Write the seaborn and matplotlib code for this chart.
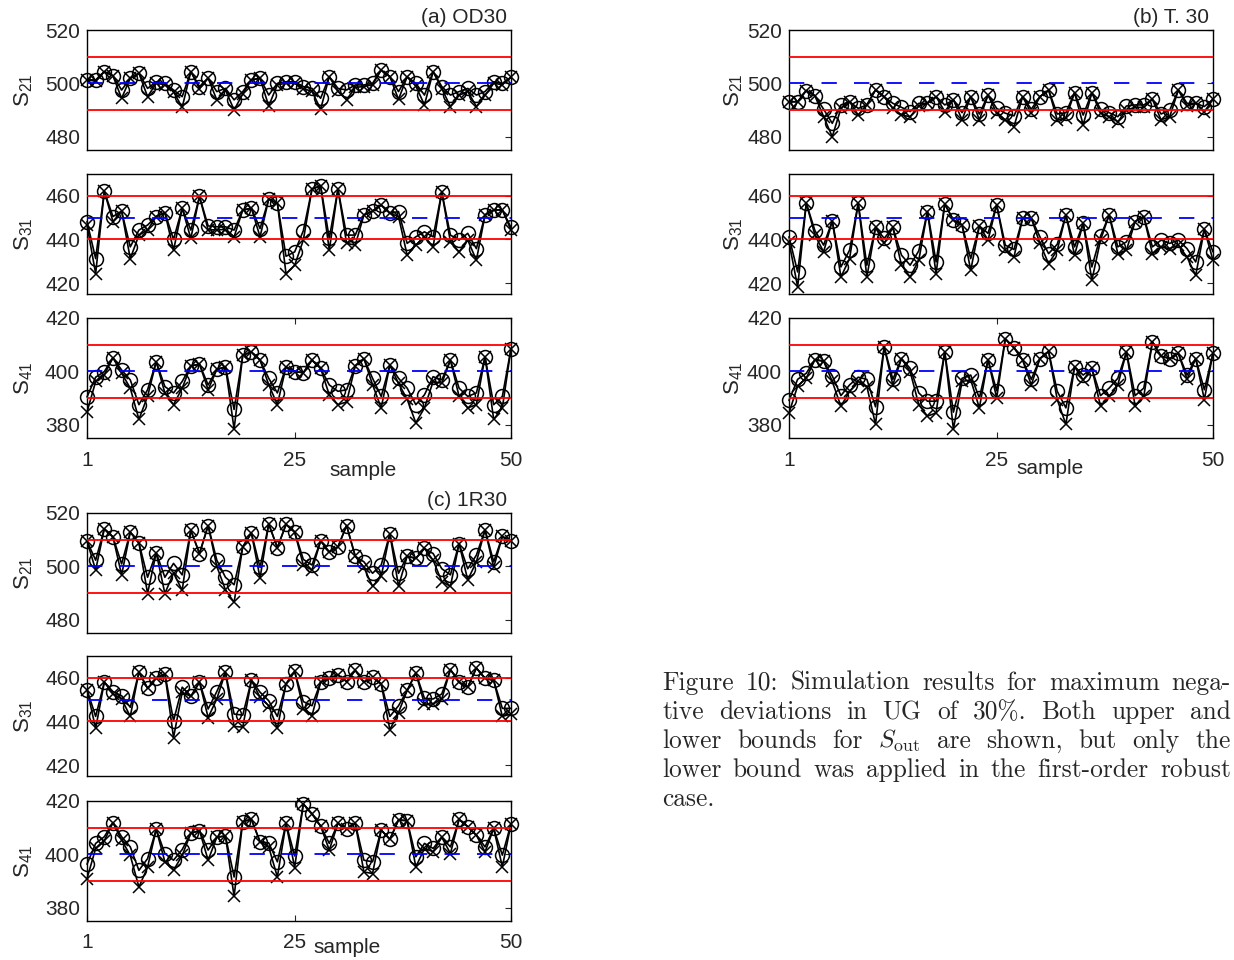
"""
Simulation results for maximum negative deviations in UG of 30%:
three cases (OD30, T. 30, 1R30), each with S21, S31 and S41 traces.
Circles = upper bound trace, crosses = lower bound trace.
"""

import numpy as np
import pandas as pd
import seaborn as sns
import matplotlib.pyplot as plt

samples = np.arange(1, 51)

# ---- (a) OD30 ----
a21_circ = [501.3, 501.3, 504.4, 502.8, 497.5, 501.9, 503.8, 498.1, 500.6, 500.0,
            497.5, 495.0, 504.4, 498.8, 501.9, 496.9, 498.1, 493.8, 496.9, 501.3,
            501.9, 495.6, 500.0, 500.6, 500.6, 498.8, 498.1, 494.4, 502.5, 498.1,
            497.5, 499.4, 499.4, 500.0, 505.0, 502.5, 496.9, 502.5, 500.0, 495.6,
            504.4, 498.8, 495.6, 496.9, 498.1, 495.6, 496.9, 500.6, 500.0, 502.3]
a21_cross = [501.3, 500.8, 504.4, 502.8, 494.4, 501.9, 503.8, 495.0, 500.0, 499.5,
             496.8, 491.0, 504.4, 498.0, 501.9, 493.8, 497.5, 490.0, 496.0, 501.3,
             501.9, 491.5, 499.5, 500.0, 500.0, 498.0, 497.0, 490.3, 502.5, 497.0,
             493.8, 498.5, 498.8, 499.5, 505.0, 502.5, 494.0, 502.5, 499.0, 491.9,
             504.4, 498.0, 491.3, 495.5, 497.0, 491.3, 495.5, 500.0, 499.5, 502.3]
a31_circ = [448.2, 431.2, 462.0, 450.5, 453.0, 436.6, 444.3, 446.6, 450.5, 452.3,
            440.0, 454.3, 444.3, 459.7, 446.2, 445.8, 445.8, 444.3, 453.5, 454.3,
            445.0, 458.5, 456.6, 432.3, 434.3, 444.0, 463.1, 464.6, 440.5, 463.1,
            442.0, 442.0, 451.2, 453.0, 455.8, 452.0, 452.8, 438.2, 441.2, 443.5,
            441.2, 461.7, 442.0, 439.7, 442.8, 435.8, 451.2, 453.5, 453.5, 445.5]
a31_cross = [446.6, 424.3, 462.0, 448.2, 453.0, 431.2, 442.0, 444.3, 450.5, 452.3,
             435.0, 454.3, 440.5, 459.7, 444.3, 444.5, 444.5, 441.2, 453.5, 454.3,
             441.2, 458.5, 456.6, 424.3, 428.2, 439.7, 463.1, 464.6, 435.0, 463.1,
             438.2, 437.4, 451.2, 453.0, 455.8, 452.0, 450.5, 432.8, 437.4, 441.2,
             436.6, 461.7, 438.9, 434.3, 439.7, 430.5, 451.2, 453.5, 453.5, 444.3]
a41_circ = [390.4, 397.8, 399.9, 405.1, 400.5, 396.8, 387.5, 393.1, 403.6, 394.3,
            391.9, 396.2, 402.0, 402.7, 394.9, 400.7, 401.7, 385.7, 406.0, 407.3,
            404.2, 397.4, 391.9, 401.7, 399.9, 399.5, 404.2, 401.1, 394.9, 392.5,
            393.1, 402.0, 404.8, 397.4, 390.6, 402.3, 397.4, 393.7, 387.5, 391.2,
            398.0, 396.8, 404.2, 393.7, 390.6, 391.9, 405.4, 387.5, 390.6, 408.5]
a41_cross = [384.7, 396.2, 398.7, 405.1, 399.3, 393.7, 382.0, 390.6, 403.6, 391.9,
             387.5, 393.7, 402.0, 402.7, 393.1, 400.7, 401.7, 378.3, 406.0, 407.3,
             404.2, 395.0, 387.5, 401.7, 399.9, 399.5, 404.2, 401.1, 391.2, 387.5,
             388.5, 402.0, 404.8, 395.0, 386.3, 402.3, 395.5, 389.5, 380.7, 386.3,
             396.2, 395.5, 404.2, 390.6, 386.3, 387.5, 405.4, 382.0, 386.3, 408.5]

# ---- (b) T. 30 ----
b21_circ = [493.1, 493.1, 497.3, 495.3, 490.3, 485.0, 491.9, 493.1, 490.6, 491.9,
            497.5, 495.0, 492.5, 491.0, 489.4, 492.5, 492.5, 495.0, 491.9, 493.8,
            489.0, 495.0, 488.5, 495.6, 490.6, 488.8, 487.8, 495.0, 490.3, 495.0,
            497.5, 488.5, 489.0, 496.5, 488.1, 496.5, 490.3, 489.0, 487.5, 491.5,
            491.9, 491.9, 494.0, 488.5, 490.0, 497.5, 492.5, 492.5, 491.3, 494.0]
b21_cross = [493.1, 493.1, 497.3, 495.3, 487.5, 480.0, 490.6, 493.1, 488.1, 491.9,
             497.5, 495.0, 490.6, 488.1, 487.5, 491.5, 492.5, 495.0, 489.4, 493.8,
             486.3, 495.0, 486.3, 495.6, 488.8, 486.3, 483.8, 495.0, 488.8, 495.0,
             497.5, 486.3, 487.0, 496.5, 484.4, 496.5, 488.8, 487.5, 485.6, 490.0,
             491.0, 491.0, 494.0, 486.3, 487.5, 497.5, 491.5, 492.5, 489.4, 494.0]
b31_circ = [441.2, 425.1, 456.6, 444.0, 437.4, 448.5, 427.4, 435.1, 456.6, 428.2,
            445.5, 440.5, 445.5, 432.8, 428.2, 434.8, 452.8, 429.7, 456.2, 448.9,
            446.6, 431.2, 446.2, 442.8, 455.8, 437.4, 435.4, 449.7, 449.7, 441.2,
            433.5, 437.8, 451.2, 436.6, 447.4, 427.4, 441.5, 451.2, 436.6, 438.9,
            448.2, 450.5, 436.6, 439.7, 438.2, 439.7, 435.8, 429.7, 444.6, 434.3]
b31_cross = [438.9, 418.2, 456.6, 442.0, 434.3, 448.5, 422.8, 431.2, 456.6, 422.8,
             445.5, 438.2, 445.5, 428.2, 422.8, 430.5, 452.8, 424.3, 456.2, 448.9,
             446.6, 425.8, 446.2, 439.7, 455.8, 435.1, 432.0, 449.7, 449.7, 438.2,
             428.9, 435.1, 451.2, 432.8, 447.4, 421.2, 439.7, 451.2, 433.5, 435.1,
             448.2, 450.5, 433.5, 436.6, 435.8, 437.4, 431.9, 423.5, 444.6, 430.5]
b41_circ = [389.1, 397.0, 399.3, 404.4, 403.8, 398.3, 390.9, 394.9, 397.8, 397.0,
            386.7, 409.1, 397.0, 404.8, 401.1, 391.9, 388.8, 388.8, 407.3, 384.7,
            397.4, 398.6, 390.0, 404.4, 392.7, 412.2, 408.9, 404.2, 397.0, 404.8,
            407.5, 392.5, 386.3, 401.7, 398.6, 401.1, 390.9, 393.7, 397.4, 407.3,
            390.9, 393.7, 411.0, 405.7, 404.8, 406.7, 398.6, 404.8, 393.1, 406.9]
b41_cross = [384.4, 394.5, 397.5, 404.4, 403.8, 396.2, 386.9, 392.5, 396.2, 394.3,
             380.1, 409.1, 394.9, 404.8, 399.9, 387.5, 383.2, 384.4, 407.3, 378.3,
             396.2, 396.8, 386.3, 404.4, 390.0, 412.2, 408.9, 404.2, 394.9, 404.8,
             407.5, 389.4, 380.1, 401.7, 396.8, 401.1, 386.9, 390.6, 394.9, 407.3,
             386.9, 390.6, 411.0, 405.7, 404.8, 406.7, 397.0, 404.8, 389.4, 406.9]

# ---- (c) 1R30 ----
c21_circ = [509.5, 502.3, 514.1, 511.0, 500.9, 512.8, 508.8, 495.9, 505.1, 495.9,
            501.1, 496.8, 513.5, 504.8, 515.3, 502.3, 495.9, 493.1, 507.3, 512.5,
            499.6, 515.9, 507.0, 515.7, 512.8, 502.6, 500.5, 509.5, 505.4, 507.3,
            515.3, 503.8, 501.7, 497.4, 500.5, 512.2, 497.4, 503.8, 503.0, 506.7,
            504.8, 499.1, 496.8, 508.5, 499.1, 504.2, 513.7, 501.7, 511.2, 509.5]
c21_cross = [509.5, 498.6, 514.1, 511.0, 496.8, 512.8, 508.8, 489.8, 505.1, 489.8,
             497.5, 491.0, 513.5, 504.8, 515.3, 500.0, 491.2, 486.5, 507.3, 512.5,
             495.6, 515.9, 507.0, 515.7, 512.8, 500.5, 498.6, 509.5, 505.4, 507.3,
             515.3, 503.8, 499.6, 492.5, 496.2, 512.2, 492.5, 503.8, 503.0, 506.7,
             502.3, 494.3, 492.5, 508.5, 494.9, 501.7, 513.7, 499.6, 511.2, 509.5]
c31_circ = [454.6, 442.3, 458.0, 453.7, 451.8, 446.5, 462.6, 455.2, 459.8, 461.8,
            440.3, 455.7, 451.5, 458.0, 445.7, 453.7, 462.6, 443.4, 442.9, 458.8,
            453.4, 449.5, 442.3, 457.2, 462.9, 449.1, 447.2, 458.0, 459.8, 461.4,
            458.3, 463.4, 458.0, 460.3, 457.2, 442.3, 447.2, 454.2, 462.2, 450.6,
            450.3, 452.6, 463.8, 458.0, 455.7, 464.5, 459.8, 458.8, 446.0, 446.0]
c31_cross = [454.6, 436.8, 458.0, 452.6, 450.3, 442.3, 462.6, 455.2, 459.8, 461.8,
             432.6, 453.4, 451.5, 458.0, 441.8, 450.3, 462.6, 437.7, 437.4, 458.8,
             451.1, 447.2, 436.8, 457.2, 462.9, 445.7, 442.6, 458.0, 459.8, 461.4,
             458.3, 463.4, 458.0, 460.3, 457.2, 436.2, 444.1, 454.2, 462.2, 448.0,
             448.0, 450.3, 463.8, 458.0, 455.7, 464.5, 459.8, 458.8, 442.3, 443.4]
c41_circ = [396.3, 404.1, 406.6, 411.9, 406.6, 402.8, 394.0, 398.4, 409.4, 400.3,
            397.8, 401.8, 407.9, 408.9, 401.6, 406.4, 406.9, 391.5, 412.3, 413.1,
            404.7, 404.3, 397.2, 411.6, 399.4, 418.9, 415.2, 410.6, 404.1, 411.6,
            409.4, 411.6, 397.8, 397.2, 409.1, 405.6, 412.9, 412.6, 399.1, 404.1,
            402.2, 406.4, 402.8, 413.1, 410.4, 407.2, 402.8, 409.7, 399.7, 411.4]
c41_cross = [390.9, 402.2, 405.1, 411.9, 405.4, 399.6, 387.7, 395.2, 409.4, 397.2,
             394.0, 399.6, 407.9, 408.9, 397.8, 406.4, 406.9, 384.2, 412.3, 413.1,
             404.7, 402.8, 391.5, 411.6, 395.0, 418.9, 415.2, 410.6, 401.6, 411.6,
             409.4, 411.6, 393.4, 392.8, 409.1, 405.6, 412.9, 412.6, 395.3, 402.2,
             401.0, 406.4, 400.3, 413.1, 410.4, 407.2, 400.9, 409.7, 395.3, 411.4]

# nominal setpoints and y ranges per output
setpoints = [500, 450, 400]
ylims = [(475, 520), (415, 470), (375, 420)]
yticks = [[480, 500, 520], [420, 440, 460], [380, 400, 420]]
ylabels = ["$\\mathregular{S_{21}}$", "$\\mathregular{S_{31}}$", "$\\mathregular{S_{41}}$"]
xticks = [1, 25, 50]
titles = ["(a) OD30", "(b) T. 30", "(c) 1R30"]

caption_lines = [
    "Figure 10: Simulation results for maximum nega-",
    "tive deviations in UG of 30%.  Both upper and",
    "lower bounds for $S_{\\mathrm{out}}$ are shown, but only the",
    "lower bound was applied in the first-order robust",
    "case.",
]

sns.set_style("white")
plt.rcParams["font.family"] = ["Liberation Sans", "DejaVu Sans"]
plt.rcParams["mathtext.fontset"] = "cm"

W, H = 1234, 960
fig = plt.figure(figsize=(W / 100, H / 100), dpi=100)
AX_W, AX_H = 424, 120


def add_ax(left, top):
    return fig.add_axes([left / W, 1 - (top + AX_H) / H, AX_W / W, AX_H / H])


def draw(ax, circ, cross, k, bottom, ylab_x):
    df = pd.DataFrame({"sample": samples, "circ": circ, "cross": cross})
    common = dict(ax=ax, color="k", lw=1.2, markeredgecolor="k",
                  markeredgewidth=1.1, clip_on=False, zorder=3)
    sns.lineplot(data=df, x="sample", y="cross", marker="x", markersize=8, **common)
    sns.lineplot(data=df, x="sample", y="circ", marker="o", markersize=10,
                 markerfacecolor="none", **common)
    sp = setpoints[k]
    ax.axhline(sp + 10, color="red", lw=1.3, zorder=4)
    ax.axhline(sp - 10, color="red", lw=1.3, zorder=4)
    ax.axhline(sp, color="blue", lw=1.3, ls=(0, (8.5, 9.5)), zorder=4)
    ax.set_xlim(1, 50)
    ax.set_ylim(*ylims[k])
    ax.set_yticks(yticks[k])
    ax.tick_params(axis="y", direction="in", length=4, width=0.8, right=True,
                   labelsize=15, pad=5)
    ax.set_ylabel(ylabels[k], fontsize=16)
    ax.yaxis.set_label_coords(ylab_x, 0.5)
    ax.yaxis.label.set_va("center")
    if bottom:
        ax.set_xticks(xticks)
        ax.tick_params(axis="x", direction="in", length=4, width=0.8, top=True,
                       bottom=True, labelsize=15, pad=9)
        ax.set_xlabel("sample", fontsize=15)
    else:
        ax.set_xticks([])
        ax.set_xlabel("")
    for s in ax.spines.values():
        s.set_color("k")
        s.set_linewidth(1.0)


panels = [
    (87, [30, 174, 318], [(a21_circ, a21_cross), (a31_circ, a31_cross), (a41_circ, a41_cross)], -0.15, 0.651, -0.27),
    (789, [30, 174, 318], [(b21_circ, b21_cross), (b31_circ, b31_cross), (b41_circ, b41_cross)], -0.13, 0.616, -0.25),
    (87, [513, 656, 801], [(c21_circ, c21_cross), (c31_circ, c31_cross), (c41_circ, c41_cross)], -0.15, 0.613, -0.22),
]

for p, (left, tops, series, ylab_x, xl_x, xl_y) in enumerate(panels):
    for k, (top, (circ, cross)) in enumerate(zip(tops, series)):
        ax = add_ax(left, top)
        draw(ax, circ, cross, k, k == 2, ylab_x)
        if k == 0:
            ax.text(1 - 4 / AX_W, 1 + 7 / AX_H, titles[p], transform=ax.transAxes,
                    ha="right", va="baseline", fontsize=15)
        if k == 2:
            ax.xaxis.set_label_coords(xl_x, xl_y)
            ax.xaxis.label.set_va("center")

# caption, justified like the LaTeX original
renderer = fig.canvas.get_renderer()
cap_x0, cap_x1 = 662, 1231
baselines = [690, 719, 748, 777, 806]
for i, (line, base) in enumerate(zip(caption_lines, baselines)):
    words = line.split()
    texts = [fig.text(0, 1 - base / H, w, family="cmr10", fontsize=18.3, va="baseline")
             for w in words]
    widths = [t.get_window_extent(renderer).width for t in texts]
    if i == len(caption_lines) - 1 or len(words) == 1:
        gap = 7
    else:
        gap = (cap_x1 - cap_x0 - sum(widths)) / (len(words) - 1)
    x = cap_x0
    for t, w in zip(texts, widths):
        t.set_x(x / W)
        x += w + gap

fig.savefig("out.png", dpi=100)
